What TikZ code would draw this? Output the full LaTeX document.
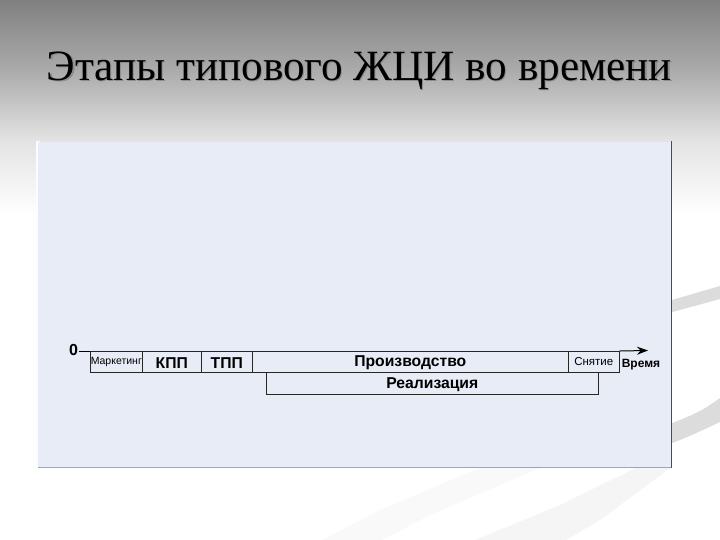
\documentclass[tikz,border=0pt]{standalone}
\usepackage{fontspec}
\setmainfont{Liberation Serif}
\setsansfont{Liberation Sans}
\usetikzlibrary{arrows.meta}
\definecolor{panelfill}{HTML}{E8ECF6}
\definecolor{swoosh}{HTML}{DCDCDC}
\definecolor{swooshlight}{HTML}{F5F5F5}
\tikzset{
  stagebox/.style={draw=black!85, line width=0.6pt, inner sep=0pt, anchor=north west},
  bigtxt/.style={font=\sffamily\bfseries\fontsize{15.7}{18}\selectfont, inner sep=0pt, yshift=-1pt},
  smalltxt/.style={font=\sffamily\fontsize{10.5}{12}\selectfont, inner sep=0pt},
}
\begin{document}
\begin{tikzpicture}[x=1pt,y=-1pt]
\useasboundingbox (0,0) rectangle (720,540);
% background
\fill[white] (0,0) rectangle (720,540);
\shade[top color=black!50, bottom color=black!33] (0,0) rectangle (720,70);
\shade[top color=black!33, bottom color=black!11] (0,70) rectangle (720,140);
\shade[top color=black!11, bottom color=white] (0,140) rectangle (720,215);
% swooshes
\fill[swoosh] (665,302) -- (720,286) -- (720,299) -- (665,314) -- cycle;
\fill[swoosh] (660,448) .. controls (690,436) .. (720,422) -- (720,398) .. controls (700,412) .. (660,428) -- cycle;
\fill[swooshlight] (640,466) -- (560,505) -- (410,567) -- (520,567) -- (600,520) -- (670,468) -- cycle;
\fill[swooshlight!60] (480,468) -- (380,510) -- (270,567) -- (330,567) -- (430,515) -- (540,468) -- cycle;
% title
\node[font=\fontsize{43.2}{50}\selectfont, text=black!45] at (360.7,72.2) {Этапы типового ЖЦИ во времени};
\node[font=\fontsize{43.2}{50}\selectfont] (title) at (359.5,71) {Этапы типового ЖЦИ во времени};
% panel
\fill[white!85!panelfill] (36,141) rectangle (40,468);
\fill[panelfill] (38,142) rectangle (671,467);
\draw[black!70, line width=0.8pt] (671,141) -- (671,468);
\draw[black!30!panelfill, line width=0.8pt] (38,467.6) -- (671,467.6);
% stages
\node[stagebox, minimum width=52pt, minimum height=21pt] (mk) at (90,351) {};
\node[smalltxt] at (mk.center) {Маркетинг};
\node[stagebox, minimum width=59pt, minimum height=21pt] (kpp) at (142,351) {};
\node[bigtxt] at (kpp.center) {КПП};
\node[stagebox, minimum width=51pt, minimum height=21pt] (tpp) at (201,351) {};
\node[bigtxt] at (tpp.center) {ТПП};
\node[stagebox, minimum width=316pt, minimum height=21pt] (prod) at (252,351) {};
\node[bigtxt] at (prod.center) {Производство};
\node[stagebox, minimum width=51pt, minimum height=21pt] (sn) at (568,351) {};
\node[font=\sffamily\fontsize{11.5}{13}\selectfont, inner sep=0pt] at (sn.center) {Снятие};
\node[stagebox, minimum width=332pt, minimum height=22pt] (real) at (266,372) {};
\node[bigtxt] at (real.center) {Реализация};
% axis
\node[font=\sffamily\bfseries\fontsize{16}{18}\selectfont, inner sep=0pt] (zero) at (73.5,350) {0};
\coordinate (tip) at (648,350.5);
\draw[black, line width=0.8pt] (zero.east) ++(1,1) -- (mk.north west);
\draw[black, line width=1pt, -{Stealth[length=11pt,width=8pt]}] (sn.north east) -- (tip);
\node[font=\sffamily\bfseries\fontsize{12}{14}\selectfont, inner sep=0pt] (time) at (641,365) {Время};
\end{tikzpicture}
\end{document}
